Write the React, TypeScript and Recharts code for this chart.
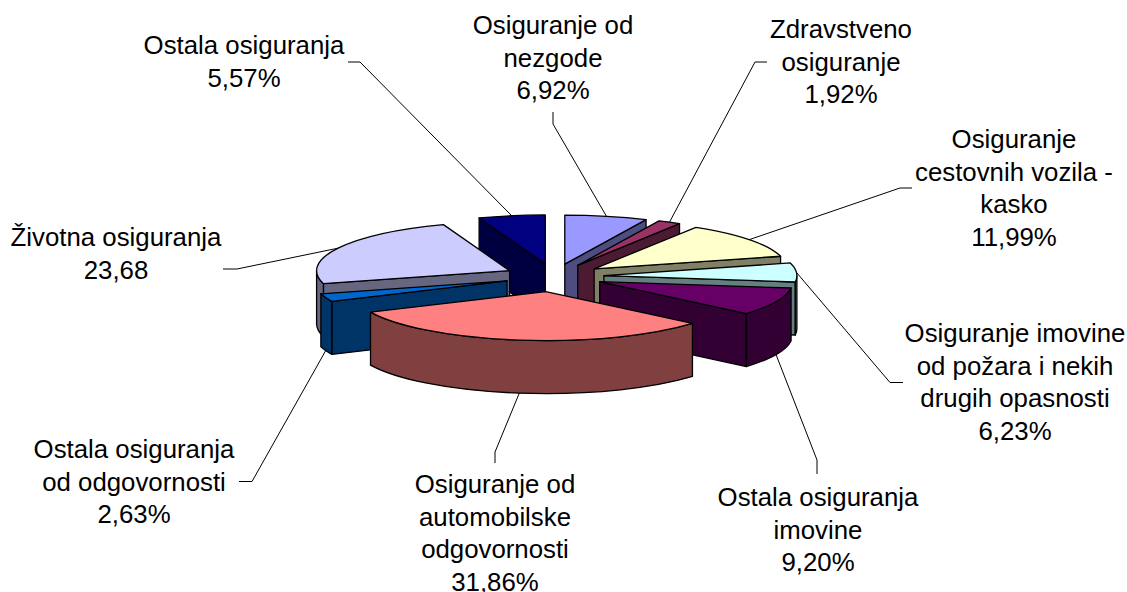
import React from "react";
import { PieChart, Pie } from "recharts";

const names = [
  "Osiguranje od nezgode",
  "Zdravstveno osiguranje",
  "Osiguranje cestovnih vozila - kasko",
  "Osiguranje imovine od požara i nekih drugih opasnosti",
  "Ostala osiguranja imovine",
  "Osiguranje od automobilske odgovornosti",
  "Ostala osiguranja od odgovornosti",
  "Životna osiguranja",
  "Ostala osiguranja",
];
const values = [6.92, 1.92, 11.99, 6.23, 9.2, 31.86, 2.63, 23.68, 5.57];
const labelLines = [
  ["Osiguranje od", "nezgode", "6,92%"],
  ["Zdravstveno", "osiguranje", "1,92%"],
  ["Osiguranje", "cestovnih vozila -", "kasko", "11,99%"],
  ["Osiguranje imovine", "od požara i nekih", "drugih opasnosti", "6,23%"],
  ["Ostala osiguranja", "imovine", "9,20%"],
  ["Osiguranje od", "automobilske", "odgovornosti", "31,86%"],
  ["Ostala osiguranja", "od odgovornosti", "2,63%"],
  ["Životna osiguranja", "23,68"],
  ["Ostala osiguranja", "5,57%"],
];

const topColors = ["#9999FF", "#993366", "#FFFFCC", "#CCFFFF", "#660066", "#FF8080", "#0066CC", "#CCCCFF", "#000080"];
const wallColors = ["#4D4D80", "#4D1A33", "#808066", "#668080", "#330033", "#804040", "#003366", "#666680", "#000040"];

const drawOrder = [8, 0, 1, 2, 3, 4, 7, 6, 5];
const explode = [50, 50, 50, 50, 50, 60, 50, 50, 50];
const SQUASH = 0.254;
const DEPTH = 53;
const FONT = 25.8;
const LINE_H = 32.6;

// label layout: centre x and first baseline
const labelX = [553, 841, 1014, 1015, 818, 495, 134, 116, 244];
const labelY = [34, 38, 148, 342, 506, 493, 458, 246, 54];
// leader line waypoints after the rim anchor
const leaderPts: number[][][] = [
  [[553, 124], [553, 112]],
  [[755, 62], [767, 62]],
  [[900, 188], [912, 188]],
  [[890, 382.5], [903, 382.5]],
  [[817, 460], [817, 474]],
  [[495, 452], [495, 463]],
  [[252, 481.5], [239, 481.5]],
  [[237, 269], [223, 269]],
  [[360, 62], [348, 62]],
];

const data = names.map((name, i) => ({ name, value: values[i] }));

const rad = (d: number) => (d * Math.PI) / 180;

function geometry(p: any) {
  const a0 = 90 - p.startAngle;
  const a1 = 90 - p.endAngle;
  const R = p.outerRadius;
  const Ry = R * SQUASH;
  const mid = (a0 + a1) / 2;
  const E = explode[p.index];
  const ax = p.cx + E * Math.sin(rad(mid));
  const ay = p.cy - E * SQUASH * Math.cos(rad(mid));
  const pt = (a: number) => [ax + R * Math.sin(rad(a)), ay - Ry * Math.cos(rad(a))];
  return { a0, a1, R, Ry, mid, ax, ay, pt };
}

function Slice(props: any) {
  const { a0, a1, R, Ry, ax, ay, pt } = geometry(props);
  const i = props.index;
  const wall = wallColors[i];
  const top = topColors[i];
  const [sx, sy] = pt(a0);
  const [ex, ey] = pt(a1);
  const stroke = { stroke: "#000", strokeWidth: 1.3, strokeLinejoin: "round" as const };
  const parts: React.ReactNode[] = [];
  if (a0 > 180 && a0 < 360) {
    parts.push(<path key="s" d={`M${ax},${ay}L${sx},${sy}L${sx},${sy + DEPTH}L${ax},${ay + DEPTH}Z`} fill={wall} {...stroke} />);
  }
  if (a1 > 0 && a1 < 180) {
    parts.push(<path key="e" d={`M${ax},${ay}L${ex},${ey}L${ex},${ey + DEPTH}L${ax},${ay + DEPTH}Z`} fill={wall} {...stroke} />);
  }
  const w0 = Math.max(a0, 90);
  const w1 = Math.min(a1, 270);
  if (w1 > w0) {
    const [wx0, wy0] = pt(w0);
    const [wx1, wy1] = pt(w1);
    const large = w1 - w0 > 180 ? 1 : 0;
    parts.push(
      <path
        key="o"
        d={`M${wx0},${wy0}A${R},${Ry} 0 ${large} 1 ${wx1},${wy1}L${wx1},${wy1 + DEPTH}A${R},${Ry} 0 ${large} 0 ${wx0},${wy0 + DEPTH}Z`}
        fill={wall}
        {...stroke}
      />
    );
  }
  const large = a1 - a0 > 180 ? 1 : 0;
  parts.push(
    <path key="t" d={`M${ax},${ay}L${sx},${sy}A${R},${Ry} 0 ${large} 1 ${ex},${ey}Z`} fill={top} {...stroke} />
  );
  return <g>{parts}</g>;
}

function SliceLabel(props: any) {
  const i = props.index;
  const { mid, pt } = geometry({ ...props, index: i });
  const [x0, y0raw] = pt(mid);
  const c = Math.cos(rad(mid));
  const y0 = c < 0 ? y0raw + DEPTH : y0raw;
  const pts = [[x0, y0], ...leaderPts[i]].map((q) => q.join(",")).join(" ");
  return (
    <g>
      <polyline points={pts} fill="none" stroke="#000" strokeWidth={1} />
      <text
        textAnchor="middle"
        fontFamily="Liberation Sans, Arial, sans-serif"
        fontSize={FONT}
        fill="#000"
      >
        {labelLines[i].map((t, k) => (
          <tspan key={k} x={labelX[i]} y={labelY[i] + k * LINE_H}>
            {t}
          </tspan>
        ))}
      </text>
    </g>
  );
}

export default function App() {
  return (
    <div style={{ position: "absolute", left: 0, top: 0, width: 1127, height: 592, background: "#fff", overflow: "hidden" }}>
      <PieChart width={1127} height={592} margin={{ top: 0, right: 0, bottom: 0, left: 0 }}>
        {drawOrder.map((idx, order) => (
          <Pie
            key={idx}
            data={data}
            dataKey="value"
            nameKey="name"
            cx={554}
            cy={276.5}
            innerRadius={0}
            outerRadius={193}
            startAngle={90}
            endAngle={-270}
            paddingAngle={0}
            isAnimationActive={false}
            labelLine={false}
            label={order === drawOrder.length - 1 ? (p: any) => <SliceLabel {...p} /> : false}
            shape={(p: any) => (p.index === idx ? <Slice {...p} /> : <g />)}
          />
        ))}
      </PieChart>
    </div>
  );
}
